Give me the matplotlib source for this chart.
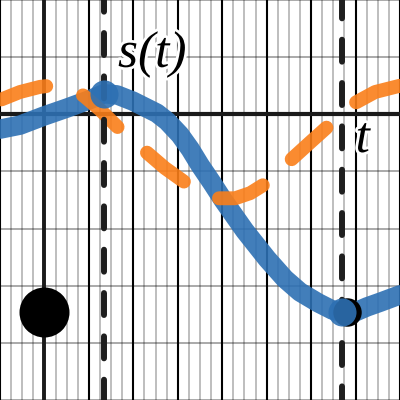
import matplotlib
matplotlib.use("Agg")
import matplotlib.pyplot as plt
from matplotlib.ticker import MultipleLocator
import matplotlib.patheffects as pe

plt.rcParams['lines.scale_dashes'] = False

# ---- data ----
s_t = [-1.0, -0.55, -0.01, 0.51, 1.0, 1.34, 1.63, 1.99, 2.53, 2.76, 3.05, 3.28, 3.5,
       3.77, 4.02, 4.51, 5.01, 5.41, 5.75, 6.16, 6.49, 6.7, 6.99, 7.26, 7.55, 8.0]
s_val = [-0.26, -0.19, -0.03, 0.11, 0.25, 0.36, 0.34, 0.23, 0.02, -0.12, -0.36, -0.61, -0.89,
         -1.2, -1.5, -2.04, -2.53, -2.88, -3.11, -3.3, -3.43, -3.46, -3.46, -3.37, -3.29, -3.16]

d_t = [-1.0, -0.55, -0.1, 0.24, 0.58, 0.89, 1.25, 1.72, 2.02, 2.29, 2.71, 3.16, 3.5,
       3.91, 4.29, 4.63, 4.96, 5.26, 5.57, 5.98, 6.38, 6.7, 6.99, 7.44, 8.0]
d_val = [0.25, 0.39, 0.48, 0.51, 0.46, 0.32, 0.08, -0.28, -0.47, -0.66, -0.94, -1.19, -1.34,
         -1.47, -1.47, -1.38, -1.22, -1.03, -0.78, -0.49, -0.21, 0.02, 0.2, 0.39, 0.5]

t_marks = [1.34, 6.685]          # dashed vertical lines / blue points
s_marks = [0.36, -3.46]
black_pt_x = [6.81]
black_pt_y = [-3.46]
axis_pt_x = [0.0]
axis_pt_y = [-3.46]

xlim = (-1, 8)
ylim = (-5, 2)

BLUE = '#2d70b3'
ORANGE = '#fa7e19'

fig = plt.figure(figsize=(4, 4), dpi=100)
ax = fig.add_axes([0, 0, 1, 1])
ax.set_xlim(*xlim)
ax.set_ylim(*ylim)
for sp in ax.spines.values():
    sp.set_visible(False)

ax.xaxis.set_major_locator(MultipleLocator(1))
ax.xaxis.set_minor_locator(MultipleLocator(0.25))
ax.yaxis.set_major_locator(MultipleLocator(1))
ax.tick_params(which='both', length=0, labelbottom=False, labelleft=False)
ax.set_axisbelow(True)
ax.grid(which='minor', axis='x', color='black', alpha=0.25, lw=1.44)
ax.grid(which='major', axis='x', color='black', alpha=1.0, lw=1.5)
ax.grid(which='major', axis='y', color='black', alpha=0.33, lw=1.44)

# axes
ax.axhline(0, color='#1a1a1a', lw=3.0, zorder=1)
ax.axvline(0, color='#1a1a1a', lw=2.8, zorder=1)

# curves
ax.plot(s_t, s_val, color=BLUE, alpha=0.9, lw=14, solid_joinstyle='round',
        solid_capstyle='round', zorder=3)
ax.plot(d_t, d_val, color=ORANGE, alpha=0.9, lw=10.0,
        linestyle=(60.8, (33.8, 28.1)), dash_capstyle='round',
        dash_joinstyle='round', zorder=4)

# dashed verticals
offsets = [7.4, 2.6]
for tm, off in zip(t_marks, offsets):
    ax.plot([tm, tm], [ylim[1], ylim[0]], color='#1e1e1e', lw=4.3,
            linestyle=(off, (15.8, 15.4)), dash_capstyle='round', zorder=5)

# points
ax.plot(axis_pt_x, axis_pt_y, 'o', color='black', ms=36, mew=0, zorder=6)
ax.plot(black_pt_x, black_pt_y, 'o', color='black', ms=20.5, mew=0, zorder=6)
ax.plot(t_marks, s_marks, 'o', color=BLUE, alpha=0.9, ms=20.2, mew=0, zorder=7)

halo = [pe.withStroke(linewidth=4, foreground='white')]
ax.text(1.655, 0.83, 's(t)', fontsize=37, family='Liberation Serif', style='italic',
        ha='left', va='baseline', zorder=8, path_effects=halo)
ax.text(7.0, -0.66, 't', fontsize=37, family='Liberation Serif', style='italic',
        ha='left', va='baseline', zorder=8, path_effects=halo)

fig.savefig('out.png', dpi=100)
